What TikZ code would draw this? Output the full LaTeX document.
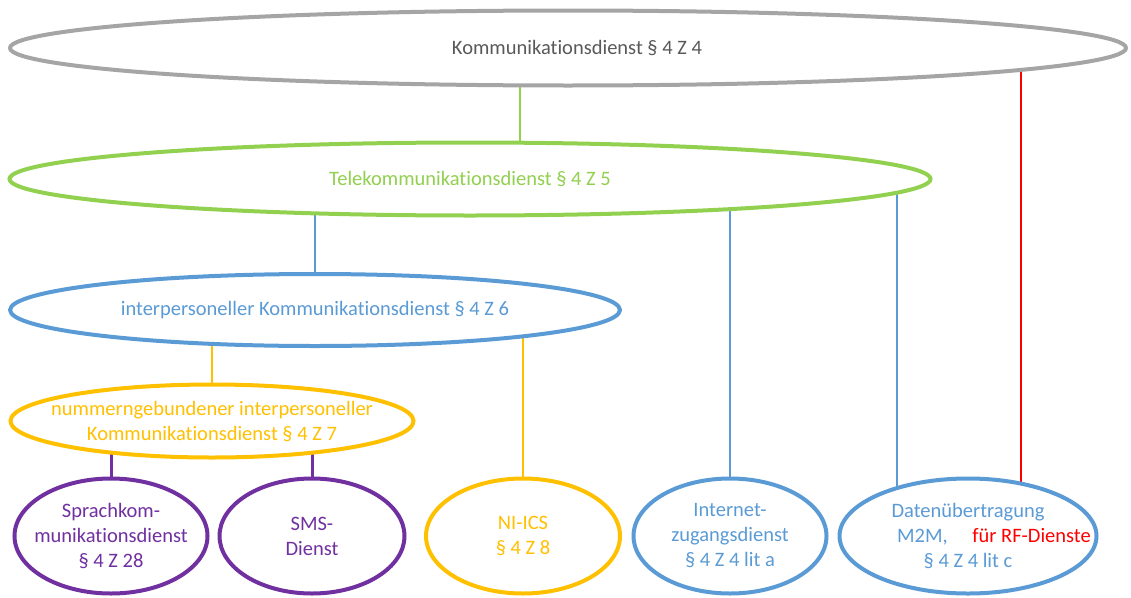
\documentclass[tikz,border=0pt]{standalone}
\usepackage{fontspec}
\setmainfont{Carlito}[Ligatures=CommonOff]
\usetikzlibrary{shapes.geometric,backgrounds}
\definecolor{kdgrau}{RGB}{165,165,165}
\definecolor{kdtext}{RGB}{89,89,89}
\definecolor{tkgruen}{RGB}{146,208,80}
\definecolor{ikblau}{RGB}{91,155,213}
\definecolor{nbgelb}{RGB}{255,192,0}
\definecolor{splila}{RGB}{112,48,160}
\definecolor{rfrot}{RGB}{255,0,0}

\begin{document}
\begin{tikzpicture}[x=1pt,y=-1pt]
    \tikzstyle{every label} = [font=\fontsize{20.5}{25}\selectfont, align=center]
    \tikzstyle{dienst} = [ellipse, draw, line width=4pt, fill=white, inner sep=0pt]
    \tikzstyle{unten} = [dienst, minimum height=115pt]
    \tikzstyle{verbindung} = [line width=2pt]
    \useasboundingbox (0,0) rectangle (1131,597);

    % oberste Ebenen
    \node[dienst, draw=kdgrau, minimum width=1116pt, minimum height=75pt,
        label={[text=kdtext, xshift=9pt]center:Kommunikationsdienst § 4 Z 4}] (kd) at (568,48) {};
    \node[dienst, draw=tkgruen, minimum width=921pt, minimum height=73pt,
        label={[text=tkgruen]center:Telekommunikationsdienst § 4 Z 5}] (tk) at (470,179) {};
    \node[dienst, draw=ikblau, minimum width=610pt, minimum height=72pt,
        label={[text=ikblau]center:interpersoneller Kommunikationsdienst § 4 Z 6}] (ik) at (315,310) {};
    \node[dienst, draw=nbgelb, minimum width=403pt, minimum height=73pt,
        label={[text=nbgelb]center:nummerngebundener interpersoneller\\Kommunikationsdienst § 4 Z 7}] (nik) at (212,421) {};

    % untere Reihe
    \node[unten, draw=splila, minimum width=193pt,
        label={[text=splila]center:Sprachkom-\\munikationsdienst\\§ 4 Z 28}] (sprach) at (111,536) {};
    \node[unten, draw=splila, minimum width=185pt,
        label={[text=splila]center:SMS-\\Dienst}] (sms) at (312,536) {};
    \node[unten, draw=nbgelb, minimum width=194pt,
        label={[text=nbgelb]center:NI-ICS\\§ 4 Z 8}] (nics) at (523,536) {};
    \node[unten, draw=ikblau, minimum width=193pt,
        label={[text=ikblau]center:Internet-\\zugangsdienst\\§ 4 Z 4 lit a}] (ias) at (730,536) {};
    \node[unten, draw=ikblau, minimum width=257pt,
        label={[text=ikblau]center:Datenübertragung\\\hspace*{52pt}M2M,\hspace{1.2em}\textcolor{rfrot}{für RF-Dienste}\\§ 4 Z 4 lit c}] (m2m) at (968,536) {};

    % Verbindungen hinter den Ellipsen
    \begin{scope}[on background layer]
        \coordinate (tkoben) at ([xshift=50pt]tk.center);
        \draw[verbindung, tkgruen] (tkoben) -- (tkoben |- kd.center);
        \draw[verbindung, rfrot] (m2m.46) -- (m2m.46 |- kd.center);

        \draw[verbindung, ikblau, line width=1.5pt] (ik.north) -- (ik.north |- tk.center);
        \draw[verbindung, ikblau, line width=1.5pt] (ias.north) -- (ias.north |- tk.center);
        \draw[verbindung, ikblau, line width=1.5pt] (m2m.145) -- (m2m.145 |- tk.center);

        \draw[verbindung, nbgelb] (nik.north) -- (nik.north |- ik.center);
        \draw[verbindung, nbgelb] (nics.north) -- (nics.north |- ik.center);

        \draw[verbindung, splila, line width=3pt] (sprach.north) -- (sprach.north |- nik.center);
        \draw[verbindung, splila, line width=3pt] (sms.north) -- (sms.north |- nik.center);
    \end{scope}
\end{tikzpicture}
\end{document}
